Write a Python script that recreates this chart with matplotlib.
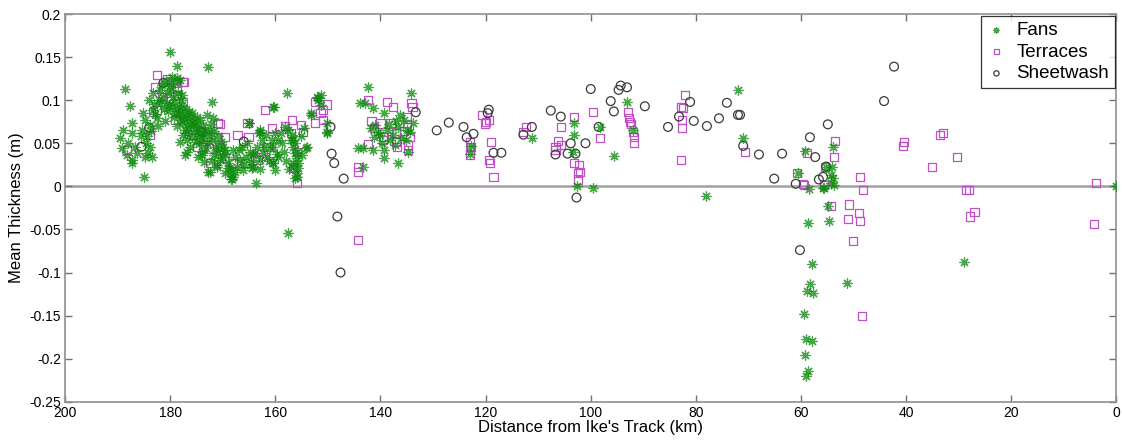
import matplotlib
matplotlib.use("Agg")
import matplotlib.pyplot as plt
from matplotlib.ticker import FixedLocator

plt.rcParams["font.family"] = ["Liberation Sans", "DejaVu Sans"]

# (distance km, mean thickness m)
fans = [
    (188.6, 0.113), (187.6, 0.093), (187.2, 0.073), (188.9, 0.066), (189.5, 0.056),
    (188.0, 0.050), (189.1, 0.044), (188.2, 0.036), (187.2, 0.031), (186.3, 0.039),
    (186.7, 0.046), (187.2, 0.062), (185.0, 0.011), (185.1, 0.085), (184.8, 0.077),
    (185.3, 0.066), (184.4, 0.058), (183.8, 0.046), (184.8, 0.034), (184.2, 0.039),
    (183.5, 0.034), (183.8, 0.071), (184.0, 0.100), (183.2, 0.108), (183.2, 0.089),
    (182.5, 0.079), (181.9, 0.097), (181.3, 0.104), (180.0, 0.156), (178.7, 0.140),
    (179.6, 0.127), (178.7, 0.126), (178.1, 0.124), (179.0, 0.120), (180.0, 0.116),
    (180.6, 0.108), (179.4, 0.104), (178.5, 0.108), (177.7, 0.106), (180.6, 0.097),
    (179.6, 0.092), (178.7, 0.091), (178.1, 0.089), (179.0, 0.085), (180.4, 0.087),
    (177.5, 0.083), (176.8, 0.079), (178.1, 0.077), (177.5, 0.073), (176.6, 0.069),
    (177.1, 0.066), (175.8, 0.085), (174.9, 0.081), (174.3, 0.077), (175.6, 0.073),
    (173.7, 0.071), (172.8, 0.139), (172.0, 0.098), (173.0, 0.083), (171.8, 0.079),
    (172.4, 0.066), (176.8, 0.062), (175.8, 0.058), (176.8, 0.054), (176.2, 0.046),
    (176.8, 0.040), (177.1, 0.036), (173.7, 0.056), (174.3, 0.050), (173.0, 0.050),
    (172.0, 0.054), (171.4, 0.046), (170.9, 0.039), (170.5, 0.031), (169.9, 0.034),
    (169.1, 0.027), (169.0, 0.021), (168.6, 0.015), (168.0, 0.011), (167.6, 0.017),
    (168.2, 0.008), (167.2, 0.023), (166.7, 0.031), (169.5, 0.042), (168.0, 0.042),
    (172.8, 0.017), (171.1, 0.023), (165.1, 0.074), (166.3, 0.046), (165.3, 0.050),
    (164.8, 0.040), (164.2, 0.036), (163.6, 0.004), (164.4, 0.021), (163.2, 0.062),
    (162.9, 0.066), (162.5, 0.054), (162.3, 0.039), (161.5, 0.034), (161.0, 0.046),
    (160.6, 0.054), (161.3, 0.029), (160.4, 0.027), (159.4, 0.034), (160.2, 0.092),
    (159.0, 0.062), (158.7, 0.050), (157.7, 0.108), (157.5, 0.066), (157.1, 0.054),
    (156.6, 0.046), (156.2, 0.039), (155.8, 0.033), (155.6, 0.027), (156.6, 0.023),
    (155.8, 0.015), (156.2, 0.010), (156.6, 0.054), (155.2, 0.058), (153.9, 0.046),
    (153.3, 0.083), (152.0, 0.104), (151.8, 0.100), (151.4, 0.106), (150.1, 0.062),
    (157.5, -0.054), (168.4, 0.008), (187.2, 0.027), (172.4, 0.017), (171.1, 0.025),
    (173.9, 0.036), (160.4, 0.092), (165.1, 0.074), (162.9, 0.063), (163.4, 0.046),
    (163.8, 0.039), (162.9, 0.031), (164.2, 0.023), (160.0, 0.062), (160.4, 0.046),
    (159.6, 0.037), (160.4, 0.027), (160.0, 0.019), (159.4, 0.054), (158.1, 0.069),
    (156.8, 0.060), (156.2, 0.050), (155.8, 0.040), (156.6, 0.027), (155.6, 0.021),
    (155.8, 0.011), (154.1, 0.045), (153.3, 0.085), (151.8, 0.102), (151.4, 0.095),
    (150.1, 0.074), (150.1, 0.063), (167.6, 0.034), (168.6, 0.021), (169.5, 0.015),
    (166.1, 0.019), (167.0, 0.042),
    # dense core
    (182.0, 0.112), (181.5, 0.118), (180.8, 0.122), (179.8, 0.112), (179.2, 0.098),
    (178.0, 0.100), (177.8, 0.094), (177.0, 0.090), (176.5, 0.086), (176.0, 0.080),
    (175.5, 0.076), (175.0, 0.070), (174.6, 0.066), (174.0, 0.062), (175.2, 0.064),
    (176.2, 0.072), (177.4, 0.078), (178.4, 0.084), (179.2, 0.080), (180.2, 0.094),
    (181.2, 0.090), (182.2, 0.100), (183.0, 0.096), (182.8, 0.084), (183.6, 0.064),
    (184.6, 0.050), (185.6, 0.058), (182.4, 0.070), (181.0, 0.076), (178.8, 0.070),
    (177.6, 0.060), (178.2, 0.052), (175.0, 0.052), (174.6, 0.058), (173.4, 0.064),
    (172.6, 0.060), (172.2, 0.072), (171.6, 0.064), (171.0, 0.058), (170.4, 0.052),
    (170.0, 0.046), (169.6, 0.038), (170.8, 0.044), (173.2, 0.044), (174.0, 0.040),
    (174.8, 0.034), (173.6, 0.028), (172.0, 0.030), (171.6, 0.036), (166.0, 0.026),
    (165.6, 0.034), (164.6, 0.028), (163.0, 0.020), (162.2, 0.046), (161.8, 0.060),
    (158.4, 0.040), (158.0, 0.030), (157.4, 0.020), (155.0, 0.036), (154.6, 0.068),
    # 145-133 km group
    (142.3, 0.115), (142.9, 0.097), (141.5, 0.091), (134.1, 0.108), (139.4, 0.085),
    (136.2, 0.083), (141.0, 0.071), (140.4, 0.063), (141.3, 0.057), (138.7, 0.066),
    (136.6, 0.069), (135.6, 0.077), (133.9, 0.074), (134.3, 0.063), (135.2, 0.054),
    (138.1, 0.054), (143.4, 0.045), (141.5, 0.042), (139.4, 0.042), (134.7, 0.040),
    (139.4, 0.033), (136.6, 0.027), (143.4, 0.023), (144.2, 0.044), (143.8, 0.097),
    (140.0, 0.060), (137.6, 0.060), (136.0, 0.056), (137.0, 0.076), (138.4, 0.072),
    (135.0, 0.066), (139.8, 0.050), (141.8, 0.068), (137.2, 0.048),
    # middle and far
    (123.0, 0.037), (122.8, 0.047), (111.2, 0.056), (103.2, 0.074), (103.2, 0.060),
    (103.4, 0.040), (102.7, 0.000), (99.6, -0.002), (95.6, 0.035), (93.1, 0.098),
    (92.0, 0.065), (98.3, 0.069), (72.0, 0.112), (71.0, 0.056), (78.1, -0.011),
    (59.2, 0.041), (60.6, 0.016), (58.5, -0.003), (55.6, -0.002), (55.2, 0.023),
    (54.1, 0.023), (53.9, 0.046), (54.3, 0.013), (53.9, 0.010), (53.7, 0.002),
    (54.9, -0.023), (55.8, -0.002), (54.3, 0.004), (54.7, -0.040), (58.7, -0.043),
    (57.9, -0.090), (51.2, -0.112), (58.3, -0.113), (58.9, -0.121), (57.7, -0.124),
    (59.4, -0.148), (59.0, -0.177), (57.9, -0.180), (59.2, -0.196), (58.7, -0.214),
    (59.0, -0.220), (28.9, -0.088), (0.0, 0.000),
]

terraces = [
    (182.5, 0.129), (182.9, 0.115), (181.0, 0.121), (178.7, 0.120), (177.5, 0.121),
    (181.5, 0.104), (183.2, 0.086), (182.5, 0.089), (179.0, 0.077), (177.5, 0.098),
    (178.7, 0.106), (183.8, 0.060), (188.2, 0.042), (175.2, 0.066), (174.6, 0.056),
    (173.0, 0.057), (170.9, 0.074), (170.9, 0.057), (169.5, 0.057), (170.5, 0.046),
    (169.5, 0.033), (172.4, 0.027), (173.7, 0.046), (180.6, 0.124), (178.7, 0.114),
    (177.3, 0.121), (177.7, 0.085), (174.9, 0.046), (172.6, 0.044), (170.5, 0.072),
    (168.0, 0.027), (167.2, 0.060), (165.7, 0.027), (165.3, 0.074), (165.1, 0.057),
    (163.8, 0.034), (163.4, 0.031), (161.9, 0.089), (161.5, 0.046), (160.6, 0.068),
    (160.4, 0.036), (158.1, 0.070), (156.8, 0.077), (157.1, 0.062), (155.2, 0.071),
    (154.7, 0.063), (156.6, 0.021), (155.8, 0.040), (155.8, 0.004), (152.4, 0.098),
    (152.4, 0.074), (151.4, 0.085), (150.9, 0.089), (150.1, 0.095), (151.0, 0.077),
    (144.2, 0.023), (144.2, 0.017), (144.2, -0.062), (175.6, 0.060), (174.2, 0.064),
    (142.3, 0.100), (138.7, 0.098), (137.7, 0.092), (134.1, 0.097), (133.9, 0.092),
    (141.7, 0.076), (141.3, 0.068), (140.0, 0.073), (138.1, 0.073), (139.4, 0.057),
    (139.6, 0.054), (137.1, 0.062), (137.1, 0.052), (136.8, 0.046), (134.9, 0.080),
    (134.9, 0.069), (134.3, 0.057), (134.7, 0.048), (134.7, 0.042), (142.3, 0.049),
    (135.6, 0.064),
    (120.6, 0.083), (120.0, 0.075), (119.4, 0.077), (120.2, 0.073), (122.9, 0.052),
    (122.7, 0.046), (123.0, 0.042), (123.0, 0.037), (119.0, 0.052), (119.4, 0.031),
    (119.2, 0.027), (118.5, 0.011), (112.4, 0.069), (112.8, 0.063), (105.7, 0.069),
    (106.3, 0.053), (106.7, 0.042), (106.7, 0.046), (105.7, 0.048), (103.2, 0.081),
    (103.2, 0.027), (102.3, 0.025), (102.5, 0.016), (102.1, 0.017), (102.5, 0.008),
    (99.6, 0.086), (98.3, 0.056), (92.9, 0.086), (92.8, 0.079), (92.6, 0.075),
    (92.3, 0.072), (92.0, 0.063), (91.8, 0.057), (91.8, 0.050), (82.9, 0.092),
    (82.9, 0.031), (82.1, 0.106), (82.5, 0.091), (82.6, 0.077), (82.7, 0.068),
    (70.7, 0.040), (58.9, 0.039), (60.8, 0.016), (59.4, 0.002), (55.4, 0.023),
    (55.6, 0.002), (53.5, 0.053), (53.7, 0.034), (48.8, 0.011), (48.2, -0.004),
    (54.3, -0.023), (50.9, -0.021), (59.6, 0.003), (51.0, -0.038), (48.9, -0.031),
    (48.8, -0.040), (50.1, -0.063), (48.4, -0.151), (28.6, -0.004), (28.0, -0.004),
    (27.0, -0.030), (27.8, -0.035), (3.8, 0.004), (4.2, -0.044), (40.4, 0.052),
    (40.6, 0.047), (33.5, 0.060), (33.0, 0.062), (30.3, 0.034), (35.0, 0.022),
]

sheetwash = [
    (185.5, 0.046), (184.0, 0.068), (181.3, 0.120), (174.0, 0.063), (166.0, 0.052),
    (149.5, 0.069), (149.3, 0.038), (148.8, 0.027), (147.0, 0.009), (148.2, -0.035),
    (147.6, -0.100), (133.3, 0.086), (129.3, 0.065), (127.0, 0.074), (124.2, 0.069),
    (123.6, 0.057), (122.3, 0.061), (119.4, 0.089), (119.6, 0.085), (118.5, 0.039),
    (117.0, 0.039), (112.8, 0.060), (111.2, 0.069), (107.6, 0.088), (105.7, 0.081),
    (103.8, 0.050), (106.7, 0.037), (104.4, 0.038), (102.9, 0.038), (101.0, 0.050),
    (102.7, -0.013), (100.0, 0.113), (96.2, 0.099), (95.6, 0.087), (94.7, 0.112),
    (94.3, 0.117), (93.1, 0.115), (98.5, 0.069), (89.7, 0.093), (85.3, 0.069),
    (83.2, 0.081), (81.1, 0.098), (80.4, 0.076), (77.9, 0.070), (75.6, 0.079),
    (74.1, 0.097), (72.0, 0.083), (71.6, 0.083), (71.0, 0.047), (68.0, 0.037),
    (63.6, 0.038), (65.1, 0.009), (61.0, 0.003), (58.3, 0.057), (57.3, 0.034),
    (54.9, 0.072), (56.6, 0.008), (55.8, 0.011), (55.2, 0.023), (60.2, -0.074),
    (44.2, 0.099), (42.3, 0.139),
]

x_ticks = [200, 180, 160, 140, 120, 100, 80, 60, 40, 20, 0]
y_ticks = [-0.25, -0.2, -0.15, -0.1, -0.05, 0, 0.05, 0.1, 0.15, 0.2]
y_tick_labels = ["-0.25", "-0.2", "-0.15", "-0.1", "-0.05", "0", "0.05", "0.1", "0.15", "0.2"]

fig = plt.figure(figsize=(11.22, 4.4), dpi=100)
ax = fig.add_axes([0.058, 0.087, 0.937, 0.881])

fx, fy = zip(*fans)
tx, ty = zip(*terraces)
sx, sy = zip(*sheetwash)

ax.axhline(0, color="#a0a0a0", linewidth=1.8, zorder=1)

ax.scatter(fx, fy, marker=(8, 2, 0), s=44, color="#0a8a0a", linewidths=0.9,
           alpha=0.75, label="Fans", zorder=3)
ax.scatter(tx, ty, marker="s", s=34, facecolors="none", edgecolors="#c050c8",
           linewidths=0.9, label="Terraces", zorder=2)
ax.scatter(sx, sy, marker="o", s=40, facecolors="none", edgecolors="#3a3a3a",
           linewidths=0.9, label="Sheetwash", zorder=2)

ax.set_xlim(200, 0)
ax.set_ylim(-0.25, 0.2)
ax.xaxis.set_major_locator(FixedLocator(x_ticks))
ax.set_yticks(y_ticks)
ax.set_yticklabels(y_tick_labels)
ax.tick_params(direction="in", top=True, right=True, length=5, width=1,
               color="#707070", labelsize=10, pad=3)
for sp in ax.spines.values():
    sp.set_color("#909090")
    sp.set_linewidth(1.2)

ax.set_xlabel("Distance from Ike's Track (km)", fontsize=12, labelpad=0)
ax.set_ylabel("Mean Thickness (m)", fontsize=12, labelpad=4)

leg = ax.legend(loc="upper right", fontsize=13.5, frameon=True, fancybox=False,
                handletextpad=0.5, handlelength=1.1, borderpad=0.3,
                labelspacing=0.25, borderaxespad=0.1, markerscale=0.6)
leg.get_frame().set_edgecolor("black")
leg.get_frame().set_linewidth(0.9)

fig.savefig("out.png", dpi=100)
